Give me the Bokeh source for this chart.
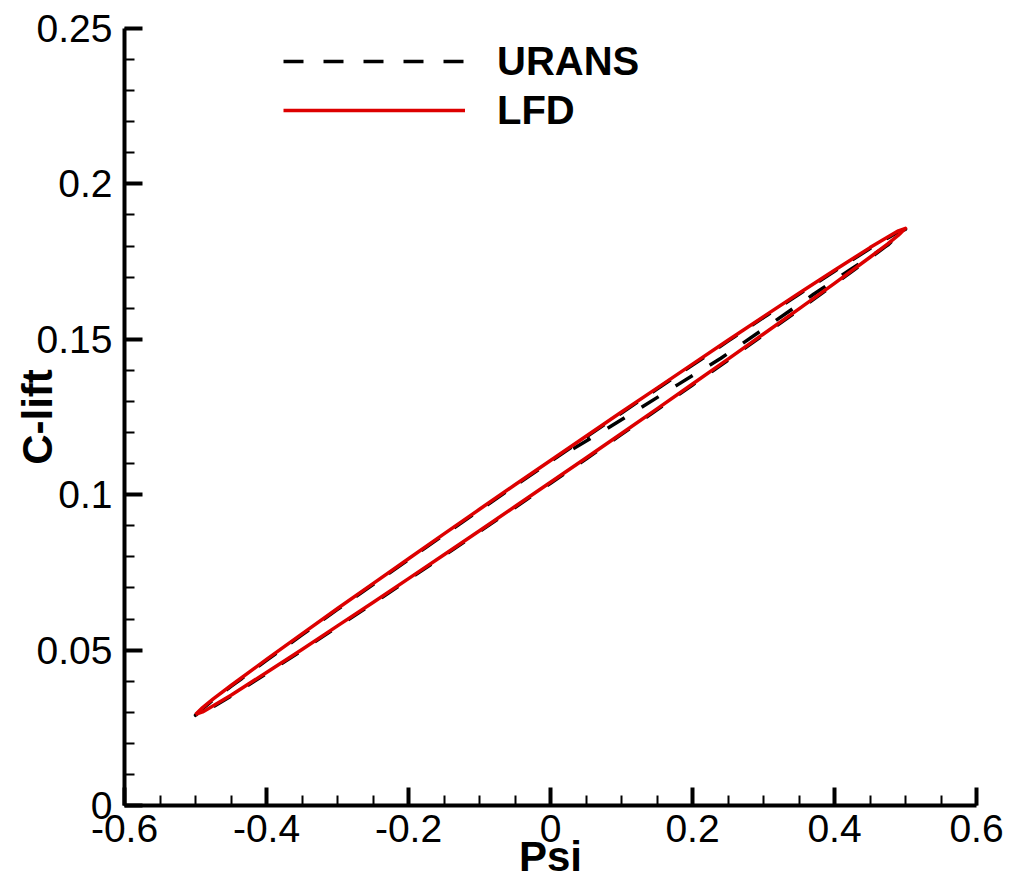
from bokeh.plotting import figure
from bokeh.models import Range1d, FixedTicker, Legend, LegendItem
from bokeh.embed import file_html
from bokeh.resources import INLINE

# ---------------- data ----------------
# LFD loop: upper branch (psi ascending) and lower branch (psi ascending)
lfd_psi = [-0.5, -0.49, -0.475, -0.45, -0.4, -0.35, -0.3, -0.25, -0.2, -0.15, -0.1, -0.05,
           0.0, 0.05, 0.1, 0.15, 0.2, 0.25, 0.3, 0.35, 0.4, 0.45, 0.475, 0.49, 0.5]
lfd_upper = [0.0293, 0.0315, 0.0343, 0.0386, 0.0470, 0.0552, 0.0634, 0.0714, 0.0794, 0.0874,
             0.0953, 0.1032, 0.1110, 0.1188, 0.1266, 0.1343, 0.1420, 0.1497, 0.1573, 0.1648,
             0.1722, 0.1795, 0.1829, 0.1849, 0.1857]
lfd_lower = [0.0293, 0.0301, 0.0321, 0.0355, 0.0428, 0.0502, 0.0578, 0.0653, 0.0730, 0.0807,
             0.0884, 0.0962, 0.1040, 0.1118, 0.1197, 0.1276, 0.1356, 0.1436, 0.1517, 0.1598,
             0.1680, 0.1764, 0.1807, 0.1835, 0.1857]

# URANS: start-up transient, then the periodic loop (about 1 px below LFD)
urans_start_psi = [0.032, 0.08, 0.13, 0.18, 0.24, 0.30, 0.37, 0.42, 0.475, 0.495]
urans_start_cl = [0.1148, 0.1213, 0.1284, 0.1355, 0.1439, 0.1533, 0.1644, 0.1721, 0.1803, 0.1846]
urans_loop_psi = lfd_psi
urans_upper = [0.0290, 0.0312, 0.0340, 0.0383, 0.0467, 0.0549, 0.0631, 0.0711, 0.0791, 0.0871,
               0.0950, 0.1029, 0.1107, 0.1185, 0.1263, 0.1340, 0.1417, 0.1494, 0.1570, 0.1645,
               0.1719, 0.1792, 0.1826, 0.1846, 0.1854]
urans_lower = [0.0290, 0.0298, 0.0318, 0.0352, 0.0425, 0.0499, 0.0575, 0.0650, 0.0727, 0.0804,
               0.0881, 0.0959, 0.1037, 0.1115, 0.1194, 0.1273, 0.1353, 0.1433, 0.1514, 0.1595,
               0.1677, 0.1761, 0.1804, 0.1832, 0.1854]

x_ticks = [-0.6, -0.4, -0.2, 0.0, 0.2, 0.4, 0.6]
x_tick_labels = ["-0.6", "-0.4", "-0.2", "0", "0.2", "0.4", "0.6"]
y_ticks = [0.0, 0.05, 0.1, 0.15, 0.2, 0.25]
y_tick_labels = ["0", "0.05", "0.1", "0.15", "0.2", "0.25"]
x_minor = [round(-0.6 + 0.05 * i, 3) for i in range(25)]
y_minor = [round(0.01 * i, 3) for i in range(26)]

# ---------------- build closed paths ----------------
lfd_x = lfd_psi + lfd_psi[::-1]
lfd_y = lfd_lower + lfd_upper[::-1]

u_x = urans_start_psi + urans_loop_psi[::-1] + urans_loop_psi + urans_loop_psi[::-1]
u_y = urans_start_cl + urans_upper[::-1] + urans_lower + urans_upper[::-1]

FONT = "Liberation Sans"

p = figure(width=1005, height=882, output_backend="svg", toolbar_location=None,
           x_range=Range1d(-0.6, 0.6), y_range=Range1d(0, 0.25),
           min_border_left=124, min_border_right=29, min_border_top=28, min_border_bottom=72)
p.outline_line_color = None
p.xgrid.visible = False
p.ygrid.visible = False
p.background_fill_color = "white"
p.border_fill_color = "white"

r_urans = p.line(u_x, u_y, line_color="black", line_width=3.5, line_dash="20 20",
                 line_join="round")
r_lfd = p.line(lfd_x, lfd_y, line_color="#dd0000", line_width=3.5, line_join="round")

for ax, ticks, minor, labels in ((p.xaxis[0], x_ticks, x_minor, x_tick_labels),
                                 (p.yaxis[0], y_ticks, y_minor, y_tick_labels)):
    ax.ticker = FixedTicker(ticks=ticks, minor_ticks=minor)
    ax.major_label_overrides = {t: l for t, l in zip(ticks, labels)}
    ax.axis_line_width = 4
    ax.axis_line_color = "black"
    ax.major_tick_in = 18
    ax.major_tick_out = 0
    ax.minor_tick_in = 10
    ax.minor_tick_out = 0
    ax.major_tick_line_width = 4
    ax.minor_tick_line_width = 2
    ax.major_tick_line_color = "black"
    ax.minor_tick_line_color = "black"
    ax.major_label_text_font = FONT
    ax.major_label_text_font_size = "39px"
    ax.major_label_text_color = "black"
    ax.axis_label_text_font = FONT
    ax.axis_label_text_font_size = "42px"
    ax.axis_label_text_font_style = "bold"
    ax.axis_label_text_color = "black"

p.xaxis[0].major_label_standoff = 9
p.yaxis[0].major_label_standoff = 12
p.xaxis[0].axis_label = "Psi"
p.yaxis[0].axis_label = "C-lift"
p.xaxis[0].axis_label_standoff = -12
p.yaxis[0].axis_label_standoff = -27

legend = Legend(items=[LegendItem(label="URANS", renderers=[r_urans]),
                       LegendItem(label="LFD", renderers=[r_lfd])],
                location=(159, 671), padding=0, margin=0, spacing=1,
                glyph_width=182, glyph_height=48, label_height=48, label_standoff=32,
                label_text_font=FONT, label_text_font_size="40px",
                label_text_font_style="bold", label_text_color="black",
                border_line_color=None, background_fill_alpha=0)
p.add_layout(legend)

open("out.html", "w").write(file_html(p, INLINE))
